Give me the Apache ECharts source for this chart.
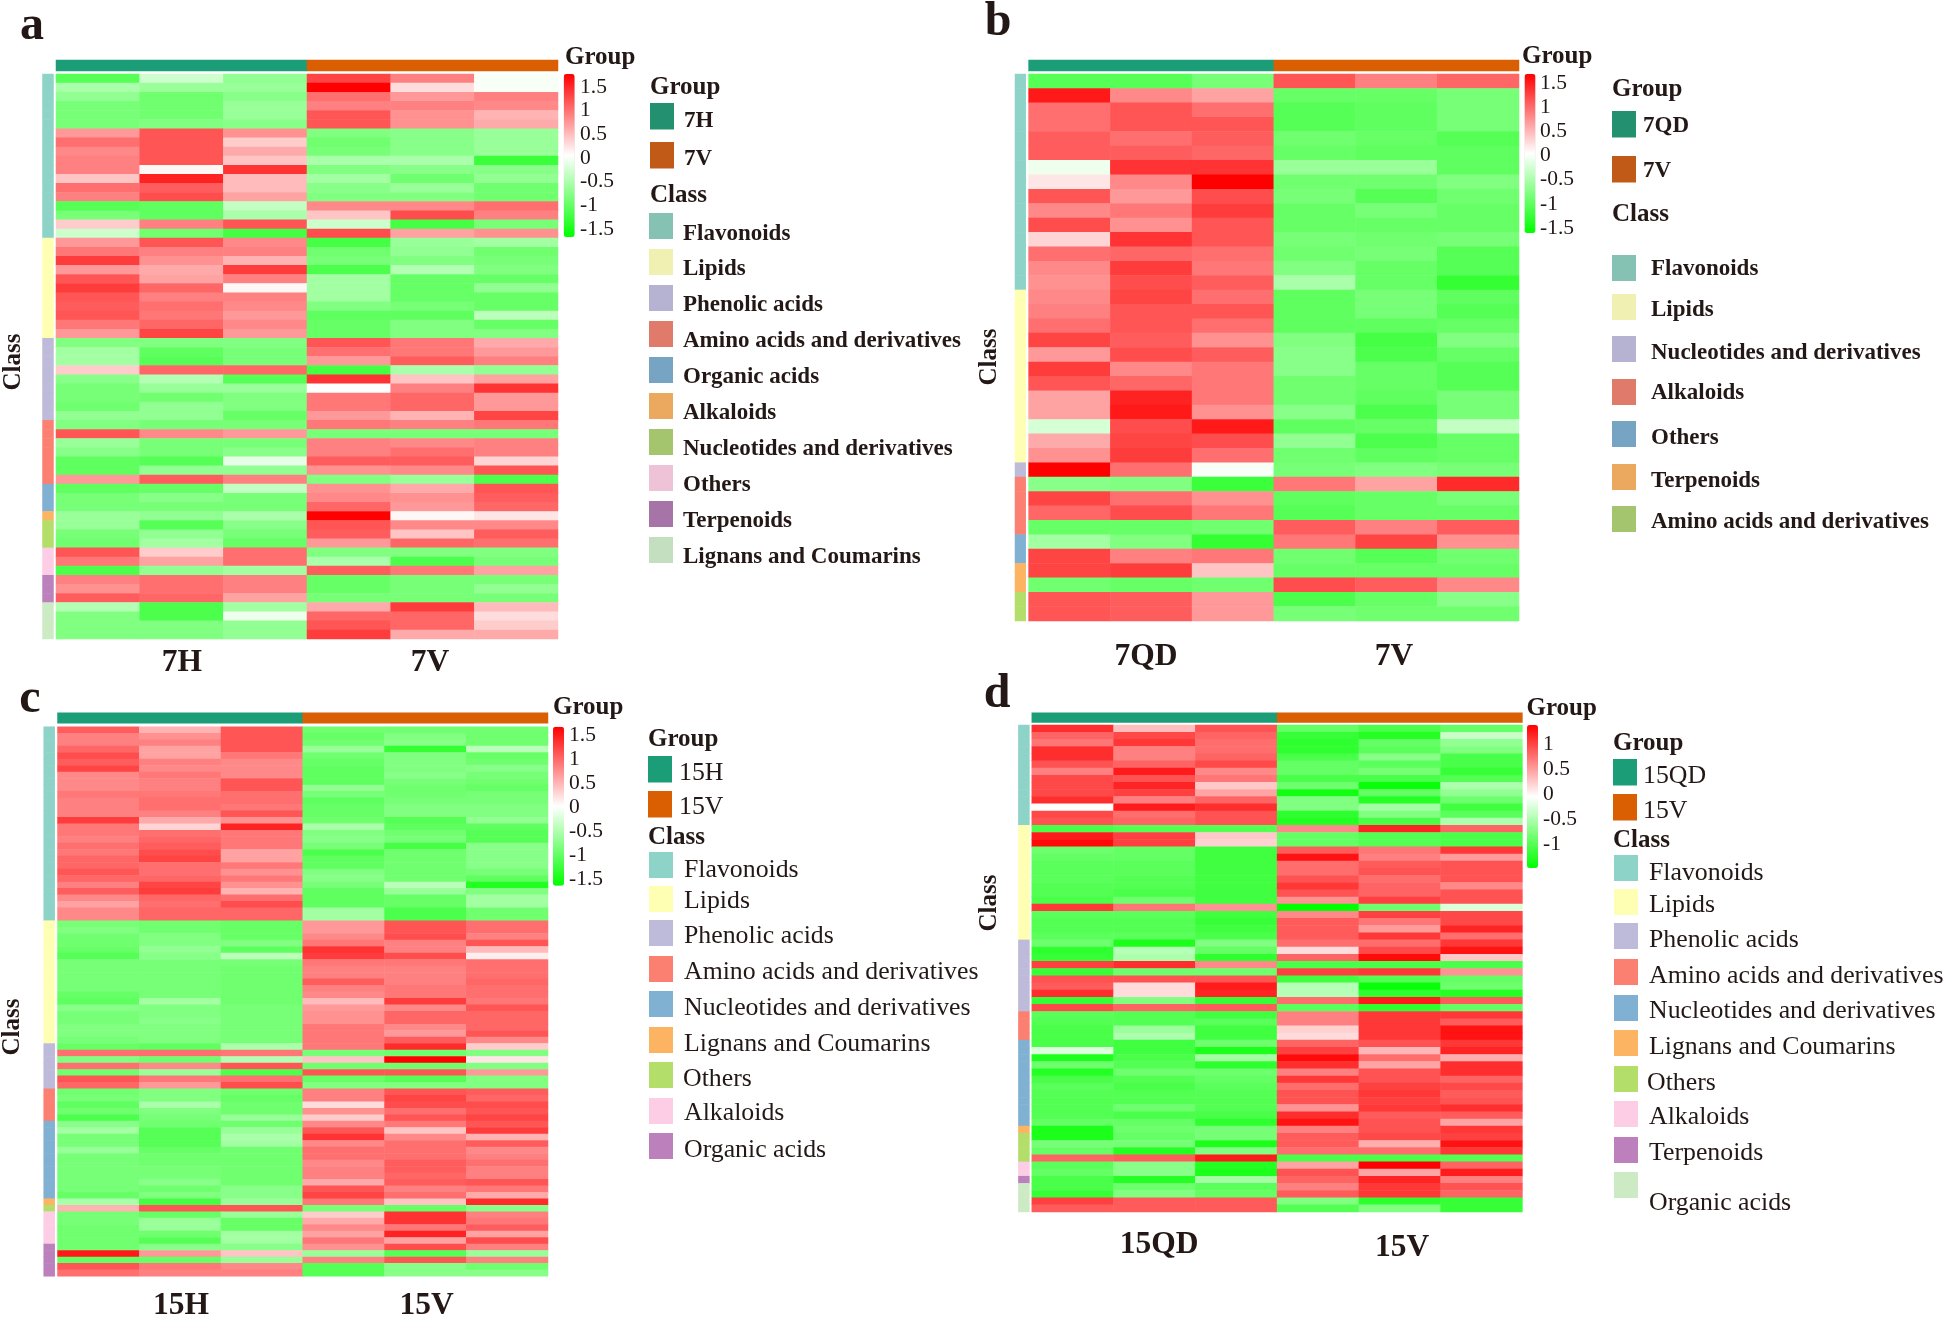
<!DOCTYPE html>
<html><head><meta charset="utf-8">
<style>html,body{margin:0;padding:0;background:#fff}#c{width:1944px;height:1317px}</style>
<script src="https://cdn.jsdelivr.net/npm/echarts@6/dist/echarts.min.js"></script>
</head><body><div id="c"></div>
<script>
// ---------- DATA ----------
const columnsAB = ['s1','s2','s3','s4','s5','s6'];
const classesA = ['Flavonoids','Lipids','Phenolic acids','Amino acids and derivatives','Organic acids','Alkaloids','Nucleotides and derivatives','Others','Terpenoids','Lignans and Coumarins'];
const classesB = ['Flavonoids','Lipids','Nucleotides and derivatives','Alkaloids','Others','Terpenoids','Amino acids and derivatives'];
const classesC = ['Flavonoids','Lipids','Phenolic acids','Amino acids and derivatives','Nucleotides and derivatives','Lignans and Coumarins','Others','Alkaloids','Organic acids'];
const classesD = ['Flavonoids','Lipids','Phenolic acids','Amino acids and derivatives','Nucleotides and derivatives','Lignans and Coumarins','Others','Alkaloids','Terpenoids','Organic acids'];
const classRowsA = [18,11,9,7,3,1,3,3,3,4];
const classRowsB = [15,12,1,4,2,2,2];
const classRowsC = [30,19,7,5,12,1,1,5,5];
const classRowsD = [14,16,10,4,12,1,4,2,1,4];
const groupsA = ['7H','7V'];
const groupsB = ['7QD','7V'];
const groupsC = ['15H','15V'];
const groupsD = ['15QD','15V'];
const ticksABC = [-1.5,-1,-0.5,0,0.5,1,1.5];
const ticksD = [-1,-0.5,0,0.5,1];

const rowsA = [
[-1.0,-0.28,-0.65,1.1,0.75,-0.05],[-0.5,-0.6,-0.6,1.5,0.2,-0.05],[-0.65,-0.85,-0.7,0.85,0.6,0.75],[-0.8,-0.85,-0.6,0.75,0.75,0.7],[-0.8,-0.85,-0.6,1.0,0.65,0.45],[-0.8,-0.75,-0.7,1.0,0.65,0.5],
[0.6,1.0,0.65,-0.75,-0.7,-0.6],[0.85,1.0,0.3,-0.85,-0.7,-0.6],[0.7,1.0,0.5,-0.8,-0.7,-0.6],[0.75,1.0,0.35,-0.5,-0.5,-1.15],[0.75,0.05,1.2,-0.75,-0.7,-0.7],[0.35,1.3,0.4,-0.55,-0.85,-0.65],
[0.85,0.95,0.4,-0.7,-0.6,-0.85],[0.75,1.05,0.55,-0.75,-0.75,-0.85],[-1.0,-0.95,-0.35,0.7,0.7,0.85],[-0.8,-0.95,-0.5,0.35,1.05,0.75],[0.3,0.75,1.0,-0.3,-1.1,-0.8],[-0.3,-0.85,-1.1,1.05,0.55,0.65],
[0.6,1.0,0.7,-1.1,-0.6,-0.55],[0.8,0.75,0.75,-0.85,-0.65,-0.85],[1.15,0.65,0.45,-0.8,-0.75,-0.8],[0.6,0.5,1.15,-1.05,-0.45,-0.75],[1.0,0.55,0.75,-0.55,-0.9,-0.9],[1.15,0.9,0.05,-0.55,-0.9,-0.65],
[1.0,0.75,0.75,-0.55,-0.9,-0.9],[0.95,0.85,0.7,-0.75,-0.8,-0.9],[1.0,0.8,0.6,-0.95,-0.95,-0.4],[0.8,0.9,0.7,-0.9,-0.75,-0.9],[0.6,1.1,0.6,-0.9,-0.75,-0.75],
[-0.75,-0.75,-0.75,1.0,0.8,0.5],[-0.55,-0.95,-0.8,0.85,0.8,0.6],[-0.55,-1.0,-0.8,0.6,0.95,0.75],[0.3,0.9,0.9,-1.1,-0.5,-0.65],[-0.7,-0.45,-1.0,1.2,0.35,0.55],[-0.8,-0.6,-0.6,0,0.75,1.2],[-0.8,-0.85,-0.75,0.8,0.9,0.6],[-0.85,-0.65,-0.75,0.8,0.9,0.6],[-0.65,-0.65,-0.9,0.6,0.45,1.1],
[-0.75,-0.8,-0.8,0.8,0.75,0.8],[1.0,0.7,0.6,-0.8,-0.8,-0.8],[-0.6,-0.8,-0.8,0.75,0.7,0.75],[-0.7,-0.8,-0.7,0.75,0.85,0.75],[-0.95,-1.0,-0.15,0.95,0.95,0.25],[-0.95,-0.65,-0.65,0.65,0.7,1.0],[0.6,0.95,0.75,-0.75,-0.6,-1.05],
[-0.95,-0.9,-0.35,0.65,0.5,1.0],[-0.8,-0.7,-0.8,0.7,0.65,0.95],[-0.8,-0.8,-0.8,0.9,0.6,0.9],
[-0.6,-0.65,-0.5,1.5,0.05,0.15],
[-0.6,-1.0,-0.7,1.0,0.7,0.7],[-0.8,-0.65,-0.8,0.95,0.35,0.95],[-0.85,-0.55,-0.9,0.6,0.9,0.85],
[1.0,0.3,0.85,-0.75,-0.75,-0.75],[0.8,0.55,0.85,-0.5,-1.05,-0.8],[-1.05,-0.65,-0.55,0.95,0.8,0.55],
[0.75,0.85,0.75,-0.9,-0.8,-0.8],[0.65,0.85,0.75,-0.9,-0.8,-0.65],[0.95,0.9,0.55,-0.8,-0.8,-0.8],
[-0.45,-1.05,-0.55,0.5,1.15,0.4],[-0.75,-1.05,-0.1,0.9,0.9,0.2],[-0.75,-0.75,-0.65,1.0,0.9,0.3],[-0.75,-0.75,-0.65,1.15,0.5,0.5]
];
const rowsB = [
[-1.0,-1.0,-0.8,1.0,0.75,0.9],[1.35,0.7,0.55,-0.9,-0.9,-0.8],[0.85,1.0,0.85,-1.0,-0.95,-0.8],[0.85,1.0,1.0,-1.0,-0.95,-0.8],[0.95,0.85,0.95,-0.85,-0.9,-1.0],[0.95,0.95,0.9,-0.9,-0.95,-0.95],[-0.1,1.2,1.2,-0.6,-0.6,-0.95],[0.15,0.7,1.5,-0.85,-0.85,-0.75],[1.0,0.6,1.05,-0.8,-1.0,-0.85],[0.7,0.8,1.15,-0.9,-0.8,-0.9],[1.05,0.65,1.0,-0.9,-0.9,-0.9],[0.25,1.2,1.0,-0.8,-0.85,-0.8],[0.85,0.9,0.85,-0.85,-0.8,-1.0],[0.7,1.15,0.8,-0.75,-0.9,-1.0],[0.65,1.05,0.95,-0.5,-0.9,-1.2],
[0.7,1.1,0.85,-0.95,-0.8,-0.95],[0.75,1.0,1.0,-0.95,-0.8,-1.0],[0.85,1.0,0.85,-0.95,-0.95,-0.9],[1.1,0.95,0.65,-0.75,-1.1,-0.75],[0.6,1.05,0.95,-0.7,-1.05,-0.9],[1.15,0.7,0.8,-0.7,-0.9,-1.0],[1.0,0.9,0.8,-0.85,-0.9,-1.0],[0.55,1.3,0.8,-0.85,-0.95,-0.8],[0.55,1.35,0.65,-0.7,-1.05,-0.8],[-0.25,1.05,1.35,-0.95,-0.9,-0.35],[0.5,1.1,1.05,-0.65,-1.05,-0.9],[0.65,1.15,0.85,-0.85,-0.95,-0.9],
[1.5,0.85,-0.05,-0.8,-0.75,-0.8],
[-0.7,-0.75,-1.15,0.8,0.55,1.25],[1.1,0.85,0.65,-0.95,-0.9,-0.8],[0.9,1.05,0.8,-1.0,-0.9,-0.9],[-0.9,-0.9,-0.85,0.95,0.75,0.95],
[-0.55,-0.75,-1.2,0.8,1.1,0.65],[1.1,0.75,0.8,-0.85,-1.0,-0.85],
[1.1,1.15,0.35,-0.9,-0.9,-0.9],[-0.85,-0.9,-0.85,1.05,0.95,0.7],
[1.0,0.95,0.6,-1.05,-0.9,-0.7],[1.0,0.95,0.6,-0.8,-0.85,-0.85]
];
const rowsC = [
[0.95,0.45,1.0,-0.85,-0.85,-0.85],[0.75,0.65,1.0,-0.9,-0.75,-0.85],[0.75,0.75,1.0,-0.85,-0.7,-0.85],[0.9,0.55,1.0,-0.6,-1.2,-0.4],[1.05,0.55,0.8,-0.85,-0.75,-0.9],[0.95,0.75,0.7,-0.9,-0.75,-0.85],[1.1,0.7,0.7,-0.95,-0.75,-0.7],[0.7,0.8,0.7,-0.95,-0.7,-0.8],[0.7,0.75,1.0,-0.95,-0.8,-0.85],[0.7,0.75,1.0,-0.65,-0.85,-0.9],
[0.8,0.8,0.85,-0.8,-0.85,-0.8],[0.75,0.85,0.85,-0.95,-0.8,-0.8],[0.75,0.85,0.8,-0.9,-0.75,-0.75],[0.75,0.75,1.0,-0.9,-0.75,-0.75],[1.15,0.5,0.65,-0.85,-1.0,-0.65],[0.8,0.25,1.3,-0.5,-0.95,-0.95],[0.8,0.85,0.8,-0.75,-0.85,-1.0],[0.75,0.9,0.8,-0.7,-0.8,-1.0],[0.85,0.95,0.8,-0.8,-1.1,-0.7],[0.8,1.05,0.55,-1.05,-0.85,-0.7],
[0.9,1.1,0.55,-0.95,-0.85,-0.7],[0.9,0.85,0.8,-0.95,-0.85,-0.7],[1.0,0.85,0.65,-0.75,-0.85,-0.8],[0.9,0.9,0.8,-0.7,-0.85,-0.95],[0.75,1.1,0.65,-0.8,-0.4,-1.3],[0.95,1.15,0.45,-0.95,-0.6,-0.75],[0.7,0.9,0.85,-0.95,-0.9,-0.55],[0.55,0.85,1.05,-0.95,-0.9,-0.55],[0.7,0.9,0.9,-0.55,-1.05,-0.85],[0.7,0.9,0.9,-0.55,-1.05,-0.85],
[-0.8,-0.85,-0.9,0.6,1.0,0.85],[-0.75,-0.85,-0.9,0.6,1.0,0.85],[-0.85,-0.75,-0.9,0.7,1.05,0.75],[-0.85,-0.75,-0.75,0.8,0.75,1.0],[-0.9,-0.65,-0.95,1.2,0.75,0.4],[-1.0,-0.7,-0.4,1.15,1.05,0.1],[-0.8,-0.8,-0.8,0.8,0.8,0.85],[-0.8,-0.8,-0.85,0.75,0.75,0.85],[-0.8,-0.8,-0.85,0.75,0.75,0.85],[-0.8,-0.8,-0.85,0.95,0.75,0.9],[-0.8,-0.8,-0.85,0.75,0.8,0.85],[-0.9,-0.8,-0.85,0.7,0.8,0.85],[-0.95,-0.55,-0.85,0.4,1.15,0.8],[-0.7,-0.75,-0.8,0.6,0.7,1.0],[-0.8,-0.75,-0.8,0.65,0.9,0.9],[-0.8,-0.7,-0.8,0.65,0.9,0.9],[-0.75,-0.75,-0.8,0.8,0.7,0.9],[-0.75,-0.75,-0.8,0.8,0.6,1.0],[-0.8,-0.75,-0.8,0.8,0.95,0.7],
[-0.9,-0.95,-0.5,0.8,1.25,0.3],[0.85,0.85,0.8,-0.8,-0.85,-0.75],[-0.75,-0.85,-0.45,0.35,1.5,0.15],[0.85,0.7,1.0,-0.85,-0.85,-0.75],[-0.85,-0.6,-1.05,1.0,1.0,0.6],[1.0,0.8,0.85,-0.9,-1.0,-0.75],[0.9,0.6,1.05,-0.75,-0.75,-0.75],
[-0.85,-0.75,-0.85,0.75,1.0,0.95],[-0.8,-0.75,-0.9,0.75,1.1,0.9],[-0.95,-0.5,-0.85,0.2,1.05,1.05],[-0.85,-0.75,-0.85,0.65,0.85,1.0],[-1.05,-0.8,-0.6,0.3,1.0,1.1],
[-0.7,-0.85,-0.85,0.7,0.8,1.0],[-0.55,-1.0,-0.6,1.0,0.35,1.15],[-0.8,-1.0,-0.5,1.2,0.7,0.45],[-0.8,-1.0,-0.55,0.7,0.85,0.95],[-0.6,-0.9,-0.85,0.85,0.85,0.7],[-0.8,-0.85,-0.85,0.85,0.85,0.75],[-0.8,-0.85,-0.85,0.7,0.95,0.85],[-0.8,-0.8,-0.85,0.75,0.95,0.75],[-0.8,-0.8,-0.85,0.75,0.9,0.75],[-0.8,-0.7,-0.85,0.5,0.95,1.0],[-0.8,-0.85,-0.7,1.0,0.75,0.8],[-0.9,-0.75,-0.7,1.1,0.85,0.5],
[-0.5,-1.1,-0.6,0.8,0.35,1.25],
[0.45,1.0,1.0,-0.8,-0.9,-0.7],
[-0.8,-0.9,-0.6,0.3,1.2,0.75],[-0.8,-0.6,-0.9,0.5,1.2,0.8],[-0.85,-0.6,-0.9,0.7,0.8,0.95],[-0.85,-0.85,-0.55,0.55,1.3,0.55],[-0.85,-1.0,-0.55,0.8,0.55,1.05],
[-0.85,-0.7,-0.7,0.65,1.05,0.75],[1.35,0.6,0.35,-0.6,-1.0,-0.6],[-0.9,-0.9,-0.6,0.75,1.0,0.75],[1.0,0.8,0.7,-1.0,-0.7,-0.85],[0.85,0.75,0.75,-1.0,-0.7,-0.7]
];
const rowsD = [
[1.15,0.35,0.95,-0.85,-1.0,-0.85],[0.85,1.0,0.85,-1.1,-1.2,-0.3],[0.75,1.1,0.8,-1.15,-0.85,-0.6],[1.15,0.7,0.8,-1.15,-0.9,-0.7],[1.15,0.7,0.85,-1.0,-0.65,-1.0],[0.95,0.85,1.0,-0.85,-0.9,-1.0],[0.7,1.25,0.65,-0.85,-0.75,-1.1],[1.0,0.95,0.75,-1.0,-1.0,-0.95],[1.0,1.2,0.3,-0.8,-1.35,-0.45],[1.0,1.05,0.5,-1.3,-0.85,-0.6],[1.15,0.7,0.85,-0.7,-1.2,-0.8],[0.0,1.25,1.15,-0.7,-0.5,-1.05],[1.0,0.8,0.95,-1.15,-0.7,-0.9],[0.95,0.85,0.95,-1.2,-1.0,-0.45],
[-1.0,-0.95,-0.95,0.65,1.2,0.85],[1.25,1.05,0.3,-0.85,-0.95,-1.0],[1.35,1.05,0.25,-0.85,-0.95,-1.0],[-0.8,-0.85,-1.05,0.9,0.75,1.1],[-0.85,-0.85,-1.05,1.3,0.7,0.55],[-0.9,-0.9,-1.05,0.8,0.9,0.95],[-0.9,-0.9,-1.05,0.8,0.95,0.95],[-0.9,-0.95,-1.05,0.95,0.8,0.95],[-0.95,-0.95,-1.05,1.1,0.85,0.65],[-0.95,-1.0,-1.05,0.95,0.85,0.95],[-1.0,-0.8,-1.05,0.6,1.05,0.95],[1.1,0.75,0.6,-1.4,-0.8,-0.2],[-0.9,-0.9,-1.05,0.65,1.05,1.0],[-0.95,-0.95,-1.1,0.9,0.75,1.0],[-0.95,-0.95,-1.05,0.9,0.55,1.2],[-0.9,-0.9,-1.0,0.9,1.1,0.8],
[-0.8,-1.25,-0.7,0.8,0.8,1.1],[-1.15,-0.4,-0.85,0.2,1.0,1.3],[-1.1,-0.45,-1.15,0.85,1.35,0.3],[1.05,1.15,0.65,-1.0,-1.0,-1.0],[-1.1,-0.8,-0.8,1.05,1.1,0.6],[0.95,0.95,0.95,-1.05,-0.95,-0.85],[0.9,0.2,1.25,-0.4,-1.35,-0.8],[1.15,0.2,1.2,-0.4,-1.15,-1.2],[-1.1,-0.7,-1.1,0.8,1.25,0.9],[1.0,0.85,0.9,-0.9,-1.15,-0.85],
[-0.9,-0.95,-1.05,0.7,1.1,1.1],[-0.95,-0.95,-0.9,0.7,1.1,0.9],[-1.0,-0.55,-1.05,0.25,1.1,1.3],[-1.0,-0.45,-1.05,0.2,1.1,1.3],
[-1.0,-1.05,-0.8,0.85,0.95,1.1],[-0.2,-1.05,-1.25,1.05,0.4,1.2],[-1.25,-1.0,-0.5,1.35,0.8,0.45],[-0.8,-0.95,-1.15,1.15,0.5,1.15],[-1.2,-0.8,-0.8,0.7,0.95,1.15],[-1.0,-0.95,-0.85,1.1,0.95,0.85],[-0.9,-1.0,-0.9,0.8,1.05,1.0],[-0.95,-0.95,-0.95,0.95,1.1,0.9],[-0.95,-0.95,-0.95,0.95,1.05,0.95],[-0.95,-0.8,-0.95,0.6,1.1,1.15],[-0.95,-1.0,-1.0,1.15,0.9,0.9],[-0.85,-0.85,-1.15,1.3,0.95,0.5],
[-1.25,-0.8,-0.75,0.7,0.95,1.1],
[-1.25,-0.85,-0.75,0.9,1.0,1.05],[-0.75,-0.75,-1.25,0.9,0.45,1.3],[-0.85,-1.2,-0.7,0.8,0.8,1.1],[0.85,0.9,1.25,-1.0,-1.0,-0.95],
[-0.9,-0.65,-1.2,0.5,1.4,0.85],[-0.85,-0.65,-1.25,0.95,0.5,1.25],
[-1.0,-1.2,-0.5,0.85,1.2,0.7],
[-1.0,-0.8,-0.9,0.7,1.1,0.95],[-1.1,-0.7,-0.85,0.9,1.1,0.85],[1.05,0.9,0.9,-0.7,-1.15,-1.1],[0.9,0.9,0.9,-0.95,-0.7,-1.1]
];

// ---------- STYLE ----------
const SERIF = '"Liberation Serif","Times New Roman",serif';
const INK = '#231815';
const set3 = ['#8dd3c7','#ffffb3','#bebada','#fb8072','#80b1d3','#fdb462','#b3de69','#fccde5','#bc80bd','#ccebc5'];
const muted = ['#86c2b4','#f1f0b3','#b6b3d2','#e07b6c','#78a4c4','#eba85f','#a4c56d','#eec3d8','#a774a8','#c4dfc0'];
const dark2 = ['#1b9e77','#d95f02'];
const dark2Muted = ['#23906f','#c25a17'];

const panels = [
 {letter:'a', lx:32, ly:25, rows:rowsA, classes:classesA, counts:classRowsA, groups:groupsA, ticks:ticksABC, range:1.5,
  heat:[56,74,558,639], top:[60,71], side:[42.5,53.5], cbar:[563.7,74,11,163], tickX:580, tickY:[87,229], gt:[565,56],
  classLabel:[12,362], xl:[[182,661],[430,661]],
  leg:{bold:true, size:23, pal:muted, gpal:dark2Muted, groupT:[650,86], classT:[650,194], gx:650, gy:[103,142], gtx:684, gty:[119,157], cx:649,
   cy:[213,249,285,321,357,393,429,465,501,537], ctx:[683,683,683,683,683,683,683,683,683,683], cty:[232,267,303,339,375,411,447,483,519,555]}},
 {letter:'b', lx:998, ly:21, rows:rowsB, classes:classesB, counts:classRowsB, groups:groupsB, ticks:ticksABC, range:1.5,
  heat:[1028.6,74,1519,621], top:[60,71], side:[1015,1025.7], cbar:[1524.5,74,11,159], tickX:1540, tickY:[83.5,228], gt:[1522,55],
  classLabel:[988,357], xl:[[1146,655],[1394,655]],
  leg:{bold:true, size:23, pal:muted, gpal:dark2Muted, groupT:[1612,88], classT:[1612,213], gx:1612, gy:[111,156], gtx:1643, gty:[124,169], cx:1612,
   cy:[255,294,336,379,421,464,506], ctx:[1651,1651,1651,1651,1651,1651,1651], cty:[267,308,351,391,436,479,520]}},
 {letter:'c', lx:30, ly:698, rows:rowsC, classes:classesC, counts:classRowsC, groups:groupsC, ticks:ticksABC, range:1.5,
  heat:[57.5,726.7,548,1276.3], top:[712.7,723.3], side:[43.7,54.7], cbar:[553,726.7,11,159], tickX:569, tickY:[735,879.5], gt:[553,706],
  classLabel:[11,1027], xl:[[181,1304],[426.5,1304]],
  leg:{bold:false, size:25.8, pal:set3, gpal:dark2, groupT:[648,738], classT:[648,836], gx:648, gy:[756,791], gtx:679, gty:[771,805], cx:649,
   cy:[852,886,920,956,991,1027,1062,1098,1133], ctx:[684,684,684,684,684,684,683,684,684], cty:[868,899,934,970,1006,1042,1077,1111,1148]}},
 {letter:'d', lx:997, ly:693, rows:rowsD, classes:classesD, counts:classRowsD, groups:groupsD, ticks:ticksD, range:1.4,
  heat:[1031.8,725,1522.4,1212], top:[712.7,722.5], side:[1018.4,1029.4], cbar:[1527,725,11,143], tickX:1543, tickY:[744.5,844.5], gt:[1526.5,707],
  classLabel:[988,903], xl:[[1159,1243],[1402,1246]],
  leg:{bold:false, size:25.8, pal:set3, gpal:dark2, groupT:[1613,742], classT:[1613,839], gx:1613, gy:[759,794], gtx:1643, gty:[774,809], cx:1614,
   cy:[855,889,923,959,995,1030,1066,1101,1137,1172], ctx:[1649,1649,1649,1649,1649,1649,1647,1649,1649,1649], cty:[871,903,938,974,1009,1045,1081,1115,1151,1201]}}
];

// ---------- BUILD ----------
const grid=[], xAxis=[], yAxis=[], series=[], visualMap=[], g=[];
const TEXT_NUDGE = 1.8;
function addGrid(box, xa, ya){
  grid.push({left:box[0], top:box[1], width:box[2]-box[0], height:box[3]-box[1], containLabel:false});
  const i=grid.length-1;
  xAxis.push(Object.assign({gridIndex:i}, xa));
  yAxis.push(Object.assign({gridIndex:i}, ya));
  return i;
}
function txt(x,y,text,size,bold,opts){
  const rotated = opts && opts.extra && opts.extra.rotation;
  g.push(Object.assign({type:'text', x:rotated?x+TEXT_NUDGE:x, y:rotated?y:y+TEXT_NUDGE, silent:true, style:{text:text, fill:INK, textAlign:(opts&&opts.align)||'left', textVerticalAlign:'middle',
    font:(bold?'bold ':'')+size+'px '+SERIF}}, opts&&opts.extra));
}
panels.forEach(p=>{
  const rowIdx = p.rows.map((_,i)=>String(i));
  const m = addGrid(p.heat,
    {type:'category', data:columnsAB, show:false},
    {type:'category', data:rowIdx, inverse:true, show:false});
  const mainData=[];
  p.rows.forEach((r,ri)=>r.forEach((v,ci)=>mainData.push([ci,ri,v])));
  series.push({type:'heatmap', xAxisIndex:m, yAxisIndex:m, data:mainData, silent:true, progressive:0, animation:false});
  visualMap.push({type:'continuous', seriesIndex:series.length-1, min:-p.range, max:p.range, calculable:false, hoverLink:false,
    left:p.cbar[0], top:p.cbar[1], itemWidth:p.cbar[2], itemHeight:p.cbar[3], padding:0, text:null, realtime:false,
    inRange:{color:['#00ff00','#ffffff','#ff0000']}, textStyle:{fontSize:0,color:'rgba(0,0,0,0)'}});
  const t = addGrid([p.heat[0],p.top[0],p.heat[2],p.top[1]],
    {type:'category', data:p.groups, show:false},
    {type:'category', data:['Group'], show:false});
  series.push({type:'heatmap', xAxisIndex:t, yAxisIndex:t, silent:true, animation:false,
    data:p.groups.map((n,i)=>({value:[i,0,i], itemStyle:{color:dark2[i]}}))});
  const s = addGrid([p.side[0],p.heat[1],p.side[1],p.heat[3]],
    {type:'category', data:['Class'], show:false},
    {type:'category', data:rowIdx, inverse:true, show:false});
  const sideData=[]; let r0=0;
  p.counts.forEach((c,k)=>{ for(let j=0;j<c;j++){ sideData.push({value:[0,r0++,k], itemStyle:{color:set3[k]}}); } });
  series.push({type:'heatmap', xAxisIndex:s, yAxisIndex:s, silent:true, animation:false, data:sideData});
  addGrid([p.tickX-1,p.tickY[0],p.tickX,p.tickY[1]],
    {type:'value', show:false},
    {type:'value', position:'right', min:p.ticks[0], max:p.ticks[p.ticks.length-1], interval:0.5,
     axisLine:{show:false}, axisTick:{show:false}, splitLine:{show:false},
     axisLabel:{margin:0, align:'left', color:INK, fontFamily:SERIF, fontSize:21.5, formatter:v=>String(v)}});
  txt(p.lx,p.ly,p.letter,48,true,{align:'center'});
  txt(p.gt[0],p.gt[1],'Group',25,true);
  txt(p.classLabel[0],p.classLabel[1],'Class',25,true,{align:'center',extra:{rotation:Math.PI/2}});
  p.groups.forEach((n,i)=>txt(p.xl[i][0],p.xl[i][1],n,31.5,true,{align:'center'}));
  const L=p.leg;
  txt(L.groupT[0],L.groupT[1],'Group',25,true);
  txt(L.classT[0],L.classT[1],'Class',25,true);
  p.groups.forEach((n,i)=>{
    g.push({type:'rect',silent:true,shape:{x:L.gx,y:L.gy[i],width:24,height:26.5},style:{fill:L.gpal[i]}});
    txt(L.gtx,L.gty[i],n,L.size,L.bold);
  });
  p.classes.forEach((n,i)=>{
    g.push({type:'rect',silent:true,shape:{x:L.cx,y:L.cy[i],width:24,height:26},style:{fill:L.pal[i]}});
    txt(L.ctx[i],L.cty[i],n,L.size,L.bold);
  });
});
const chart = echarts.init(document.getElementById('c'), null, {width:1944, height:1317});
chart.setOption({animation:false, backgroundColor:'#fff', tooltip:{show:false},
  grid, xAxis, yAxis, series, visualMap, graphic:{elements:g}});
</script></body></html>
